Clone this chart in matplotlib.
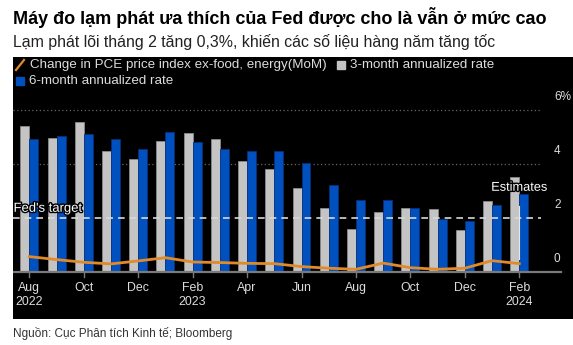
import matplotlib
matplotlib.use("Agg")
import matplotlib.pyplot as plt
import matplotlib.patheffects as pe
from matplotlib.lines import Line2D

months = ["Aug 2022", "Sep 2022", "Oct 2022", "Nov 2022", "Dec 2022", "Jan 2023",
          "Feb 2023", "Mar 2023", "Apr 2023", "May 2023", "Jun 2023", "Jul 2023",
          "Aug 2023", "Sep 2023", "Oct 2023", "Nov 2023", "Dec 2023", "Jan 2024", "Feb 2024"]
three_month = [5.41, 4.96, 5.56, 4.47, 4.17, 4.84, 5.14, 4.93, 4.10, 3.80, 3.12,
               2.37, 1.58, 2.22, 2.36, 2.32, 1.56, 2.63, 3.51]
six_month = [4.91, 5.04, 5.10, 4.93, 4.56, 5.19, 4.80, 4.54, 4.47, 4.48, 4.02,
             3.21, 2.68, 2.67, 2.36, 1.95, 1.89, 2.49, 2.90]
mom = [0.57, 0.46, 0.36, 0.30, 0.41, 0.53, 0.37, 0.35, 0.32, 0.31, 0.20,
       0.14, 0.10, 0.33, 0.16, 0.10, 0.14, 0.42, 0.31]
tick_idx = [0, 2, 4, 6, 8, 10, 12, 14, 16, 18]
tick_labels = ["Aug\n2022", "Oct", "Dec", "Feb\n2023", "Apr", "Jun", "Aug", "Oct", "Dec", "Feb\n2024"]
y_ticks = [0, 2, 4, 6]
y_labels = ["0", "2", "4", "6%"]
fed_target = 2.0

W, H = 573, 345
fig = plt.figure(figsize=(W / 100, H / 100), dpi=100)
fig.patch.set_facecolor("white")

narrow = ["Liberation Sans Narrow", "Liberation Sans", "DejaVu Sans"]
sans = ["Liberation Sans", "DejaVu Sans"]

# axes = black panel (x 13..573, y 57..319)
ax = fig.add_axes([13 / W, 1 - 319 / H, (573 - 13) / W, (319 - 57) / H])
ax.set_facecolor("black")
px_per_month = 27.22
x0 = 29.3
ax.set_xlim((13 - x0) / px_per_month, (573 - x0) / px_per_month)
ax.set_ylim((272 - 319) / 27.0, (272 - 57) / 27.0)
for s in ax.spines.values():
    s.set_visible(False)
ax.set_xticks([])
ax.set_yticks([])

xs = list(range(len(months)))
bw = 0.33
grid_right = (541 - x0) / px_per_month
xl = ax.get_xlim()[0]

for yt in [4, 6]:
    ax.plot([xl, grid_right], [yt, yt], color="#666666", lw=0.9, ls=(0, (1, 2)), zorder=1)

ax.bar([x - bw / 2 for x in xs], three_month, width=bw, color="#c4c4c4",
       edgecolor="#8a8a8a", linewidth=0.6, zorder=2)
ax.bar([x + bw / 2 for x in xs], six_month, width=bw, color="#0050c0",
       edgecolor="#06307a", linewidth=0.6, zorder=2)

# Fed's target dashed line
ax.plot([xl, grid_right], [fed_target, fed_target], color="#d8d8d8", lw=1.2,
        ls=(0, (4, 3)), zorder=3)
ax.text(xl + 0.02, fed_target + 0.12, "Fed's target", color="white", fontsize=9.4,
        family=sans, ha="left", va="bottom", zorder=6,
        path_effects=[pe.withStroke(linewidth=2, foreground="black")])

# MoM line
ax.plot(xs, mom, color="#e08a2a", lw=2.0, zorder=4, solid_joinstyle="round")

# zero axis line
zero_right = (561 - x0) / px_per_month
ax.plot([xl, zero_right], [0, 0], color="#7a7a7a", lw=1.6, zorder=5)
for t in tick_idx:
    ax.plot([t, t], [0, -0.18], color="#7a7a7a", lw=1.0, zorder=5)

for t, lab in zip(tick_idx, tick_labels):
    ax.text(t, -0.36, lab, color="#dcdcdc", fontsize=8.9, family=sans,
            ha="center", va="top", linespacing=1.2)

ylab_x = (554 - x0) / px_per_month
for yt, lab in zip(y_ticks, y_labels):
    ax.text(ylab_x, yt + 0.48, lab, color="#dcdcdc", fontsize=8.5, family=sans,
            ha="left", va="center")

# Estimates annotation
ax.plot([18 - 0.02, 18 - 0.02], [0.5, 2.45], color="#e8e8e8", lw=0.8, zorder=4)
ax.text(18, 3.12, "Estimates", color="white", fontsize=9.2, family=sans,
        ha="center", va="center", zorder=6,
        path_effects=[pe.withStroke(linewidth=2, foreground="black")])

# legend (manual)
fig.text(30 / W, 1 - 65 / H, "Change in PCE price index ex-food, energy(MoM)",
         color="#dcdcdc", fontsize=9.6, family=narrow, ha="left", va="center")
fig.add_artist(Line2D([16 / W, 24 / W], [1 - 70 / H, 1 - 60 / H], color="#e08a2a", lw=1.6))
fig.add_artist(plt.Rectangle((337 / W, 1 - 69 / H), 8 / W, 8 / H, color="#c4c4c4",
                             transform=fig.transFigure))
fig.text(350 / W, 1 - 65 / H, "3-month annualized rate", color="#dcdcdc",
         fontsize=9.6, family=narrow, ha="left", va="center")
fig.add_artist(plt.Rectangle((16 / W, 1 - 85 / H), 8 / W, 8 / H, color="#0050c0",
                             transform=fig.transFigure))
fig.text(29 / W, 1 - 81 / H, "6-month annualized rate", color="#dcdcdc",
         fontsize=9.6, family=narrow, ha="left", va="center")

# titles
fig.text(13 / W, 1 - 18 / H, "Máy đo lạm phát ưa thích của Fed được cho là vẫn ở mức cao",
         fontsize=13.0, fontweight="bold", family=sans, color="black", ha="left", va="center")
fig.text(13 / W, 1 - 42 / H, "Lạm phát lõi tháng 2 tăng 0,3%, khiến các số liệu hàng năm tăng tốc",
         fontsize=11.4, family=sans, color="#222222", ha="left", va="center")
fig.text(13 / W, 1 - 333 / H, "Nguồn: Cục Phân tích Kinh tế; Bloomberg",
         fontsize=8.5, family=narrow, color="#333333", ha="left", va="center")

fig.savefig("out.png", dpi=100, facecolor="white")
